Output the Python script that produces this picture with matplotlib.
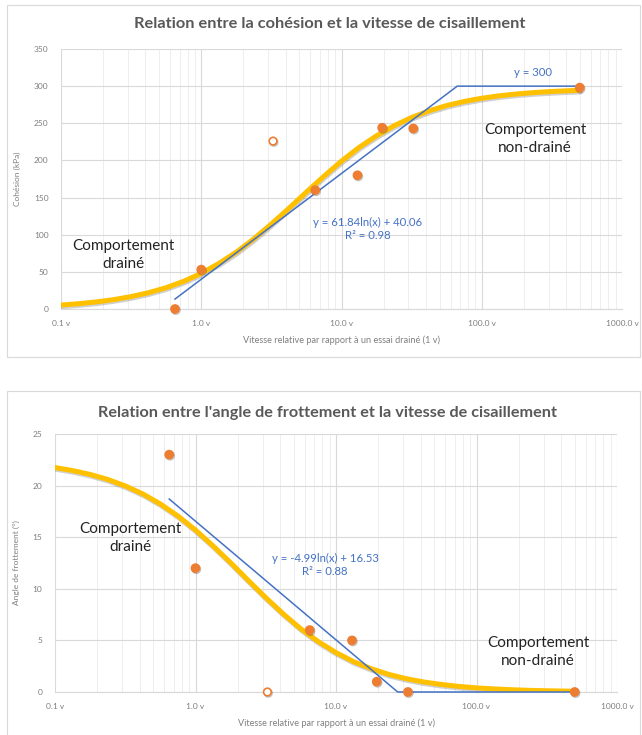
import matplotlib
matplotlib.use("Agg")
import matplotlib.pyplot as plt
import matplotlib.patheffects as pe
from matplotlib.patches import Rectangle
from matplotlib.ticker import FixedLocator, LogLocator, NullFormatter

# measured points (x = relative speed, v)
speed = [0.65, 1.0, 6.5, 13, 19.5, 32.5, 500]
speed_outlier = [3.25]

cohesion = [0, 53, 160, 180, 244, 243, 298]
cohesion_outlier = [226]

angle = [23, 12, 6, 5, 1, 0, 0]
angle_outlier = [0]

# trend lines (log fit, then plateau)
cohesion_trend_x = [0.65, 66.9, 500]
cohesion_trend_y = [13.4, 300, 300]
angle_trend_x = [0.65, 27.5, 500]
angle_trend_y = [18.7, 0, 0]

# smooth yellow curves
curve_x = [0.1, 0.133, 0.178, 0.237, 0.316, 0.422, 0.562, 0.750, 1.0, 1.33, 1.78,
           2.37, 3.16, 4.22, 5.62, 7.50, 10, 13.3, 17.8, 23.7, 31.6, 42.2, 56.2,
           75.0, 100, 133, 178, 237, 316, 422, 500]
cohesion_curve = [5.3, 7.1, 9.5, 12.6, 16.7, 22.0, 28.7, 37.3, 48.0, 61.1, 76.6,
                  94.4, 114.4, 135.6, 157.4, 178.8, 199.1, 217.3, 233.3, 246.7,
                  257.8, 266.8, 273.9, 279.4, 283.7, 287.0, 289.5, 291.4, 292.8,
                  293.9, 294.4]
angle_curve = [21.75, 21.46, 21.08, 20.60, 19.97, 19.19, 18.22, 17.05, 15.69, 14.17,
               12.52, 10.82, 9.15, 7.56, 6.12, 4.87, 3.82, 2.95, 2.26, 1.71, 1.29,
               0.97, 0.73, 0.54, 0.40, 0.30, 0.22, 0.16, 0.12, 0.09, 0.075]

xticks = [0.1, 1, 10, 100, 1000]
xtick_labels = ["0.1 v", "1.0 v", "10.0 v", "100.0 v", "1000.0 v"]

ORANGE = "#ED7D31"
YELLOW = "#FFC000"
BLUE = "#4472C4"
GRID = "#D9D9D9"
TXT = "#7F7F7F"

plt.rcParams["font.family"] = ["Lato", "DejaVu Sans"]

W, H = 642, 735
fig = plt.figure(figsize=(W / 100, H / 100), dpi=100)


def px(x, y):
    return x / W, 1 - y / H


def panel(rect, y, y_out, trend_x, trend_y, curve, ymax, ystep, ylabel):
    ax = fig.add_axes(rect)
    ax.set_xscale("log")
    ax.set_xlim(0.1, 1000)
    ax.set_ylim(0, ymax)
    ax.xaxis.set_major_locator(FixedLocator(xticks))
    ax.set_xticklabels(xtick_labels)
    ax.xaxis.set_minor_locator(LogLocator(base=10, subs=range(2, 10)))
    ax.xaxis.set_minor_formatter(NullFormatter())
    ax.set_yticks(range(0, ymax + 1, ystep))
    ax.grid(which="major", color=GRID, lw=0.8)
    ax.grid(which="minor", axis="x", color="#EEEEEE", lw=0.7)
    ax.set_axisbelow(True)
    for s in ["top", "right", "left"]:
        ax.spines[s].set_visible(False)
    ax.spines["bottom"].set_color(GRID)
    ax.tick_params(which="both", length=0, labelsize=6, labelcolor=TXT)
    ax.tick_params(axis="x", pad=8)
    ax.tick_params(axis="y", pad=9)
    ax.set_ylabel(ylabel, fontsize=6, color=TXT, labelpad=9)
    ax.set_xlabel("Vitesse relative par rapport à un essai drainé (1 v)",
                  fontsize=6.6, color=TXT, labelpad=6)

    ax.plot(curve_x, curve, color=YELLOW, lw=3.6, solid_capstyle="round", zorder=3,
            path_effects=[pe.SimpleLineShadow(offset=(0.5, -1.2), shadow_color="#666666", alpha=0.3),
                          pe.Normal()])
    ax.plot(trend_x, trend_y, color=BLUE, lw=1.1, zorder=4, clip_on=False)
    shadow = [pe.SimpleLineShadow(offset=(0.6, -0.8), shadow_color="#333333", alpha=0.3), pe.Normal()]
    ax.plot(speed, y, "o", color=ORANGE, ms=6, mec=ORANGE, zorder=5, clip_on=False,
            path_effects=shadow)
    ax.plot(speed_outlier, y_out, "o", color="white", ms=5.5, mec=ORANGE, mew=1.2,
            zorder=5, clip_on=False, path_effects=shadow)
    return ax


# ---------- top chart ----------
fig.add_artist(Rectangle(px(7, 357), 633 / W, 352 / H, transform=fig.transFigure,
                         fill=False, ec=GRID, lw=0.8))
panel([61 / W, 1 - 309 / H, 561 / W, 260 / H], cohesion, cohesion_outlier,
      cohesion_trend_x, cohesion_trend_y, cohesion_curve, 350, 50, "Cohésion (kPa)")
fig.text(*px(330, 24), "Relation entre la cohésion et la vitesse de cisaillement",
         ha="center", va="center", fontsize=11.8, fontweight="bold", color="#595959")
fig.text(*px(123, 255), "Comportement\ndrainé", ha="center", va="center",
         fontsize=11, linespacing=1.3, color="#222222")
fig.text(*px(535, 139), "Comportement\nnon-drainé", ha="center", va="center",
         fontsize=11, linespacing=1.3, color="#222222")
fig.text(*px(368, 229), "y = 61.84ln(x) + 40.06\nR² = 0.98", ha="center", va="center",
         fontsize=8.2, linespacing=1.2, color=BLUE)
fig.text(*px(533, 72), "y = 300", ha="center", va="center", fontsize=8.2, color=BLUE)

# ---------- bottom chart ----------
fig.add_artist(Rectangle(px(7, 745), 633 / W, 354 / H, transform=fig.transFigure,
                         fill=False, ec=GRID, lw=0.8))
panel([55 / W, 1 - 692 / H, 562 / W, 258 / H], angle, angle_outlier,
      angle_trend_x, angle_trend_y, angle_curve, 25, 5, "Angle de frottement (°)")
fig.text(*px(327, 413), "Relation entre l'angle de frottement et la vitesse de cisaillement",
         ha="center", va="center", fontsize=11.7, fontweight="bold", color="#595959")
fig.text(*px(130, 538), "Comportement\ndrainé", ha="center", va="center",
         fontsize=11, linespacing=1.3, color="#222222")
fig.text(*px(538, 652), "Comportement\nnon-drainé", ha="center", va="center",
         fontsize=11, linespacing=1.3, color="#222222")
fig.text(*px(325, 565), "y = -4.99ln(x) + 16.53\nR² = 0.88", ha="center", va="center",
         fontsize=8.2, linespacing=1.2, color=BLUE)

fig.savefig("out.png", dpi=100)
